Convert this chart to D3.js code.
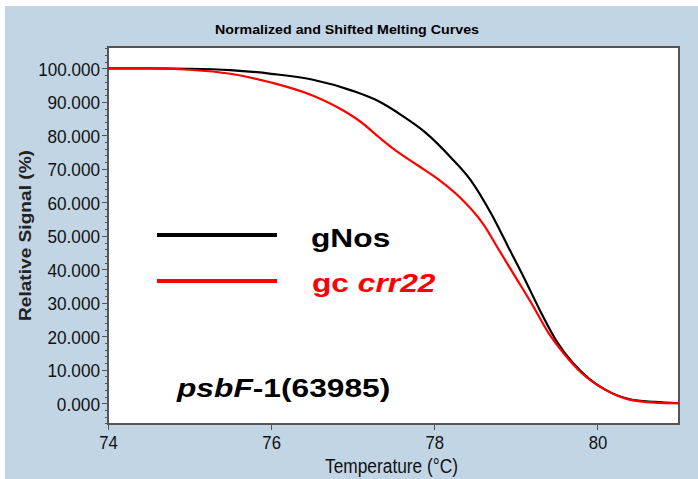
<!DOCTYPE html>
<html lang="en">
<head>
<meta charset="UTF-8">
<title>Normalized and Shifted Melting Curves</title>
<style>
  body { margin: 0; padding: 0; background: #fff; }
  .axis path, .axis line { fill: none; stroke: #555; shape-rendering: crispEdges; }
  .tick-label { font-family: "Liberation Sans Narrow", "Liberation Sans", sans-serif; font-size: 19px; fill: #111; }
</style>
</head>
<body>
<div id="chart"></div>
<script src="https://cdnjs.cloudflare.com/ajax/libs/d3/7.8.5/d3.min.js"></script>
<script>
// temperature (°C) and relative signal (%)
var tempGNos = [74, 74.5, 75, 75.5, 76, 76.5, 77, 77.3, 77.6, 77.9, 78.2, 78.45, 78.7, 78.9, 79.1, 79.3, 79.5, 79.7, 79.9, 80.1, 80.4, 80.7, 81];
var sigGNos  = [100, 100, 99.9, 99.5, 98.4, 96.7, 93.3, 90.4, 86.0, 80.7, 73.5, 66.5, 56.5, 47.0, 37.5, 27.5, 18.5, 12.0, 7.3, 4.0, 1.2, 0.4, 0];

var tempCrr = [74, 74.5, 75, 75.5, 76, 76.5, 76.9, 77.1, 77.33, 77.5, 77.8, 78.07, 78.3, 78.6, 78.8, 79.0, 79.2, 79.4, 79.6, 79.8, 80.1, 80.4, 80.7, 81];
var sigCrr  = [100, 100, 99.6, 98.4, 95.8, 92.0, 87.2, 84.0, 79.3, 76.0, 71.0, 66.5, 61.8, 53.5, 45.5, 37.5, 29.5, 21.0, 14.5, 9.2, 4.0, 1.0, 0.2, 0];

var xTicks = [74, 76, 78, 80];
var yTicks = [0, 10, 20, 30, 40, 50, 60, 70, 80, 90, 100];

var W = 698, H = 479;
var plot = { left: 108, top: 47, right: 679, bottom: 424 };

var svg = d3.select("#chart").append("svg")
  .attr("width", W).attr("height", H);

// light blue panel
svg.append("rect")
  .attr("x", 5).attr("y", 6)
  .attr("width", W - 5).attr("height", H - 6)
  .attr("fill", "#c2d5e5");

svg.append("text")
  .attr("x", 215).attr("y", 34)
  .attr("textLength", 264)
  .attr("lengthAdjust", "spacingAndGlyphs")
  .style("font-family", "Liberation Sans, Arial, sans-serif")
  .style("font-weight", "bold")
  .style("font-size", "12px")
  .text("Normalized and Shifted Melting Curves");

var x = d3.scaleLinear().domain([74, 81]).range([plot.left, plot.right]);
var y = d3.scaleLinear().domain([-6.2, 106.4]).range([plot.bottom, plot.top]);

svg.append("rect")
  .attr("x", plot.left).attr("y", plot.top)
  .attr("width", plot.right - plot.left).attr("height", plot.bottom - plot.top)
  .attr("fill", "#fff")
  .attr("stroke", "#555")
  .attr("stroke-width", 2);

// label width like the narrow bitmap font of the original
function labelLen(s) {
  var n = 0;
  for (var i = 0; i < s.length; i++) n += (s[i] === "." ? 6 : 9.3);
  return n;
}

// y axis with minor ticks
var yMinor = d3.range(-6, 107, 2).filter(function (d) { return d % 10 !== 0; });
svg.append("g").attr("class", "axis")
  .attr("transform", "translate(" + plot.left + ",0)")
  .call(d3.axisLeft(y).tickValues(yMinor).tickSize(3).tickFormat(""))
  .call(function (g) { g.select(".domain").remove(); });
var fmt = d3.format(".3f");
var yAx = svg.append("g").attr("class", "axis")
  .attr("transform", "translate(" + plot.left + ",0)")
  .call(d3.axisLeft(y).tickValues(yTicks).tickSize(6).tickPadding(2).tickFormat(fmt));
yAx.select(".domain").remove();
yAx.selectAll("text")
  .attr("class", "tick-label")
  .attr("dy", "0.36em")
  .attr("textLength", function (d) { return labelLen(fmt(d)); })
  .attr("lengthAdjust", "spacingAndGlyphs");

var xAx = svg.append("g").attr("class", "axis")
  .attr("transform", "translate(0," + plot.bottom + ")")
  .call(d3.axisBottom(x).tickValues(xTicks).tickSize(6).tickPadding(5).tickFormat(d3.format("d")));
xAx.select(".domain").remove();
xAx.selectAll("text")
  .attr("class", "tick-label")
  .attr("dy", "0.75em")
  .attr("textLength", 18.6)
  .attr("lengthAdjust", "spacingAndGlyphs");

svg.append("text")
  .attr("x", 325).attr("y", 473)
  .attr("textLength", 133)
  .attr("lengthAdjust", "spacingAndGlyphs")
  .attr("class", "tick-label")
  .style("font-size", "20px")
  .text("Temperature (°C)");

svg.append("text")
  .attr("transform", "translate(31,321) rotate(-90)")
  .attr("textLength", 171)
  .attr("lengthAdjust", "spacingAndGlyphs")
  .style("font-family", "Liberation Sans, Arial, sans-serif")
  .style("font-weight", "bold")
  .style("font-size", "17px")
  .style("fill", "#222")
  .text("Relative Signal (%)");

// curves
var line = d3.line()
  .x(function (d) { return x(d[0]); })
  .y(function (d) { return y(d[1]); })
  .curve(d3.curveMonotoneX);

svg.append("clipPath").attr("id", "clip").append("rect")
  .attr("x", plot.left).attr("y", plot.top)
  .attr("width", plot.right - plot.left).attr("height", plot.bottom - plot.top);

var curves = svg.append("g").attr("clip-path", "url(#clip)");
curves.append("path")
  .datum(d3.zip(tempGNos, sigGNos))
  .attr("fill", "none").attr("stroke", "#000").attr("stroke-width", 2.2)
  .attr("d", line);
curves.append("path")
  .datum(d3.zip(tempCrr, sigCrr))
  .attr("fill", "none").attr("stroke", "#ff0000").attr("stroke-width", 2.2)
  .attr("d", line);

// legend
var legend = [
  { color: "#000", y: 235 },
  { color: "#ff0000", y: 281 }
];
svg.selectAll(".leg-line").data(legend).enter().append("line")
  .attr("x1", 157).attr("x2", 277)
  .attr("y1", function (d) { return d.y; })
  .attr("y2", function (d) { return d.y; })
  .attr("stroke", function (d) { return d.color; })
  .attr("stroke-width", 4);

function bigText(tx, ty, color) {
  return svg.append("text")
    .attr("transform", "translate(" + tx + "," + ty + ") scale(1.22,1)")
    .style("font-family", "Liberation Sans, Arial, sans-serif")
    .style("font-weight", "bold")
    .style("font-size", "26px")
    .style("fill", color);
}

bigText(311, 247, "#000").text("gNos");

var t2 = bigText(312, 292, "#ff0000");
t2.append("tspan").text("gc ");
t2.append("tspan").style("font-style", "italic").text("crr22");

var t3 = bigText(177, 397, "#000");
t3.append("tspan").style("font-style", "italic").text("psbF");
t3.append("tspan").text("-1(63985)");
</script>
</body>
</html>
